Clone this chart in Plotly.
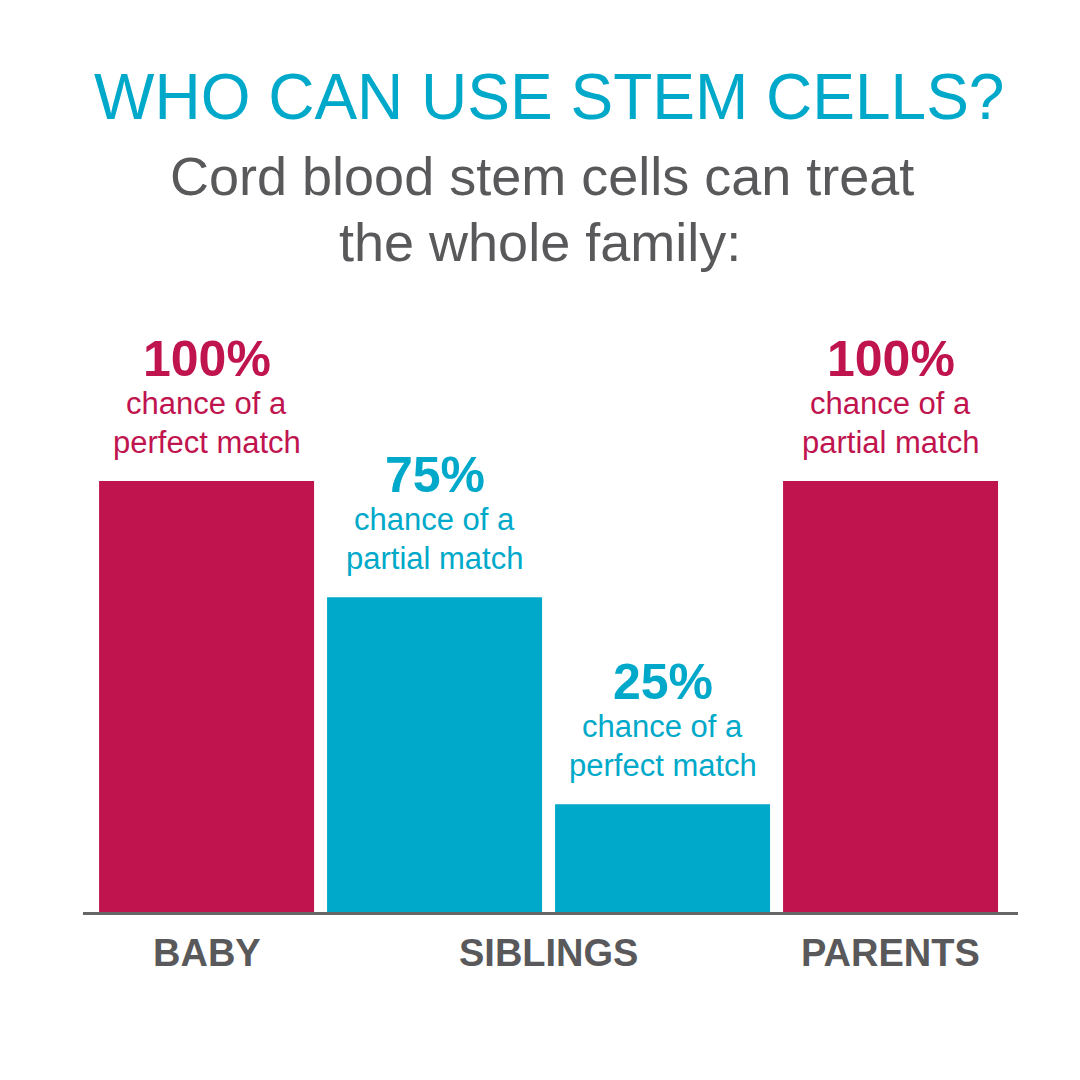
import plotly.graph_objects as go

# ---- data ----
bar_groups = ["BABY", "SIBLINGS", "SIBLINGS", "PARENTS"]
bar_values = [100, 73, 25, 100]
pct_labels = ["100%", "75%", "25%", "100%"]
line1_labels = ["chance of a", "chance of a", "chance of a", "chance of a"]
line2_labels = ["perfect match", "partial match", "perfect match", "partial match"]
group_names = ["BABY", "SIBLINGS", "PARENTS"]

title_text = "WHO CAN USE STEM CELLS?"
subtitle_lines = ["Cord blood stem cells can treat", "the whole family:"]

CRIMSON = "#C0144F"
CYAN = "#00A9C9"
GRAY = "#59595B"
bar_colors = [CRIMSON, CYAN, CYAN, CRIMSON]

FONT = "Liberation Sans, Arial, Helvetica, sans-serif"

# page body adds an 8px offset; compensate
OFF = 8
W, H = 1080, 1080
ML, MR, MT, MB = 83 - OFF, 62 + OFF, 0, 1080 - (912 - OFF)
plot_h = H - MT - MB
plot_w = W - ML - MR
px_per_unit = 4.31
ymax = plot_h / px_per_unit

xs = list(range(len(bar_values)))

fig = go.Figure()
fig.add_trace(go.Bar(
    x=xs, y=bar_values,
    marker=dict(color=bar_colors, line=dict(width=0)),
    width=0.943,
    hoverinfo="skip",
))


def paper_y(py):
    return (H - MB - (py - OFF)) / plot_h


def paper_x(px):
    return (px - OFF - ML) / plot_w


annotations = []
# title & subtitle
annotations.append(dict(text=title_text, x=paper_x(549), xref="paper", y=paper_y(97), yref="paper",
                        xanchor="center", yanchor="middle", showarrow=False,
                        font=dict(family=FONT, size=64, color=CYAN)))
for txt, py, cx in zip(subtitle_lines, [176, 242], [542, 540]):
    annotations.append(dict(text=txt, x=paper_x(cx), xref="paper", y=paper_y(py), yref="paper",
                            xanchor="center", yanchor="middle", showarrow=False,
                            font=dict(family=FONT, size=54, color=GRAY)))

# bar labels
for i, (v, p, l1, l2, c) in enumerate(zip(bar_values, pct_labels, line1_labels, line2_labels, bar_colors)):
    annotations.append(dict(text="<b>%s</b>" % p, x=i, y=v, xref="x", yref="y",
                            xanchor="center", yanchor="middle",
                            yshift=122, showarrow=False,
                            font=dict(family=FONT, size=50, color=c)))
    annotations.append(dict(text=l1, x=i, y=v, xref="x", yref="y",
                            xanchor="center", yanchor="middle",
                            yshift=78, showarrow=False,
                            font=dict(family=FONT, size=31, color=c)))
    annotations.append(dict(text=l2, x=i, y=v, xref="x", yref="y",
                            xanchor="center", yanchor="middle",
                            yshift=39, showarrow=False,
                            font=dict(family=FONT, size=31, color=c)))

# group labels
for g in group_names:
    idx = [i for i, b in enumerate(bar_groups) if b == g]
    cx = sum(idx) / len(idx)
    annotations.append(dict(text="<b>%s</b>" % g, x=cx, xref="x", y=paper_y(953), yref="paper",
                            xanchor="center", yanchor="middle", showarrow=False,
                            font=dict(family=FONT, size=38, color=GRAY)))

fig.update_layout(
    width=W, height=H,
    margin=dict(l=ML, r=MR, t=MT, b=MB),
    paper_bgcolor="white", plot_bgcolor="white",
    showlegend=False,
    annotations=annotations,
    xaxis=dict(range=[-0.542, 3.559], showgrid=False, zeroline=False, showticklabels=False,
               ticks="", showline=True, linecolor="#666666", linewidth=3, fixedrange=True),
    yaxis=dict(range=[0, ymax], showgrid=False, zeroline=False, showticklabels=False,
               ticks="", showline=False, fixedrange=True),
)

fig.write_html("out.html", config={"displayModeBar": False})
